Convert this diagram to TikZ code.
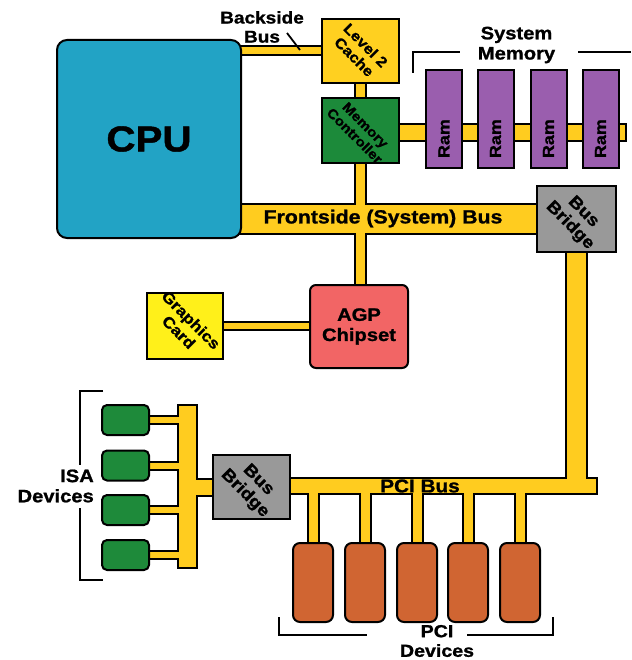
\documentclass[tikz,border=0pt]{standalone}
\usepackage{fontspec}
\newfontfamily\lab{Liberation Sans}[FakeStretch=1.12,BoldFeatures={FakeBold=1.2}]
\usetikzlibrary{backgrounds}
\newcommand\myfs[1]{\fontsize{#1}{#1}\selectfont}
\newcommand\myrfs[1]{\fontsize{#1}{1.12\dimexpr#1pt\relax}\selectfont}
\definecolor{busy}{HTML}{FFCC1F}
\definecolor{l2c}{HTML}{FFD020}
\definecolor{cpuc}{HTML}{22A3C5}
\definecolor{mcc}{HTML}{1C8A3A}
\definecolor{ramc}{HTML}{9A5EAE}
\definecolor{grayc}{HTML}{999999}
\definecolor{agpc}{HTML}{F26565}
\definecolor{gcc}{HTML}{FFF01A}
\definecolor{isac}{HTML}{1E8A3A}
\definecolor{pcic}{HTML}{D06532}
\newcommand\BusPaths{%
 \draw[bw=7] (l2) -- (l2 -| cpu);
 \draw[bw=9] (l2) -- (mc);
 \draw[bw=9] (mc) -- (mc |- agp);
 \draw[bw=27] (bb1) -- (bb1 -| cpu);
 \draw[bw=15] (memend -| mc) -- (memend);
 \draw[bw=19] (bb1) -- (bb1 |- pciend);
 \draw[bw=14] (pciend -| bb2) -- (pciend);
 \draw[bw=6] (gc) -- (gc -| agp);
 \draw[bw=17] (isatop) -- (isabot);
 \draw[bw=15] (bb2) -- (bb2 -| isatop);
 \foreach \i in {1,...,4} {\draw[bw=6] (isa\i) -- (isa\i -| isatop);}
 \foreach \i in {1,...,5} {\draw[bw=9] (pci\i) -- (pci\i |- pciend);}
}
\begin{document}
\begin{tikzpicture}[x=1pt,y=-1pt,
  box/.style={draw=black,line width=2pt,inner sep=0pt},
  rotlbl/.style={rotate=-45,align=center,inner sep=0pt,font=\lab\bfseries\myrfs{#1}},
  txt/.style={align=center,inner sep=0pt,font=\lab\bfseries\myrfs{#1}},
  brk/.style={draw=black,line width=2pt},
  outerpass/.style={bw/.style={draw=black,line width=##1pt+4pt,shorten <=-2pt,shorten >=-2pt}},
  innerpass/.style={bw/.style={draw=busy,line width=##1pt}},
  ramstyle/.style={box,fill=ramc,rotate=90,minimum height=36pt,inner xsep=10pt,text width=78pt,align=left,font=\lab\bfseries\myfs{16}},
  isastyle/.style={box,fill=isac,rounded corners=5pt,minimum width=47pt,minimum height=30pt},
  pcistyle/.style={box,fill=pcic,rounded corners=7pt,minimum width=40pt,minimum height=79pt}
]
\useasboundingbox (0,0) rectangle (631,660);
% main components
\node[box,fill=cpuc,rounded corners=10pt,minimum width=184pt,minimum height=198pt,font=\lab\bfseries\myfs{36}] (cpu) at (149,139) {CPU};
\node[box,fill=l2c,minimum width=77pt,minimum height=64pt,label={[rotlbl=14.5]center:Level 2\\Cache}] (l2) at (360,51) {};
\node[box,fill=mcc,minimum width=77pt,minimum height=65pt,label={[rotlbl=13.5]center:Memory\\Controller}] (mc) at (360,130.5) {};
\node[box,fill=grayc,minimum width=79pt,minimum height=66pt,label={[rotlbl=17]center:Bus\\Bridge}] (bb1) at (576.5,219) {};
\node[box,fill=agpc,rounded corners=6pt,minimum width=98pt,minimum height=83pt,align=center,font=\lab\bfseries\myrfs{18}] (agp) at (359,326.5) {AGP\\Chipset};
\node[box,fill=gcc,minimum width=76pt,minimum height=66pt,label={[rotlbl=15.5]center:Graphics\\Card}] (gc) at (185,326) {};
\node[box,fill=grayc,minimum width=77pt,minimum height=64pt,label={[rotlbl=17]center:Bus\\Bridge}] (bb2) at (251.5,487) {};
% RAM
\node[ramstyle] (ram1) at (444,119) {Ram};
\node[ramstyle] (ram2) at (495.5,119) {Ram};
\node[ramstyle] (ram3) at (548.5,119) {Ram};
\node[ramstyle] (ram4) at (600.5,119) {Ram};
% ISA devices
\node[isastyle] (isa1) at (125.5,420) {};
\node[isastyle] (isa2) at (125.5,465.5) {};
\node[isastyle] (isa3) at (125.5,510) {};
\node[isastyle] (isa4) at (125.5,555) {};
% PCI devices
\node[pcistyle] (pci1) at (313,582.5) {};
\node[pcistyle] (pci2) at (365,582.5) {};
\node[pcistyle] (pci3) at (417,582.5) {};
\node[pcistyle] (pci4) at (468,582.5) {};
\node[pcistyle] (pci5) at (520,582.5) {};
% free bus ends
\coordinate (memend) at (625,132.5);
\coordinate (pciend) at (596,486);
\coordinate (isatop) at (187.5,406);
\coordinate (isabot) at (187.5,567);
% buses
\begin{pgfonlayer}{background}
\begin{scope}[outerpass]\BusPaths\end{scope}
\begin{scope}[innerpass]\BusPaths\end{scope}
\end{pgfonlayer}
% labels
\node[txt=17] (bsl) at (262,27) {Backside\\Bus};
\draw[line width=1.8pt] (287,33) -- (300,50);
\node[txt=18] (sml) at (516.5,45) {System\\Memory};
\draw[brk] (413,73) -- (413,52) -- (460,52);
\draw[brk] (578,52) -- (631,52);
\node[txt=19] (fsbl) at (383,218.5) {Frontside (System) Bus};
\node[txt=18.5] (pcibl) at (420,486) {PCI Bus};
\node[txt=18,align=right,anchor=east] (isal) at (94,486) {ISA\\Devices};
\draw[brk] (103,391) -- (80,391) -- (80,465);
\draw[brk] (80,508) -- (80,580) -- (103,580);
\node[txt=17.5] (pcidl) at (437,641) {PCI\\Devices};
\draw[brk] (279,617) -- (279,635) -- (367,635);
\draw[brk] (467,635) -- (553,635) -- (553,617);
\end{tikzpicture}
\end{document}
